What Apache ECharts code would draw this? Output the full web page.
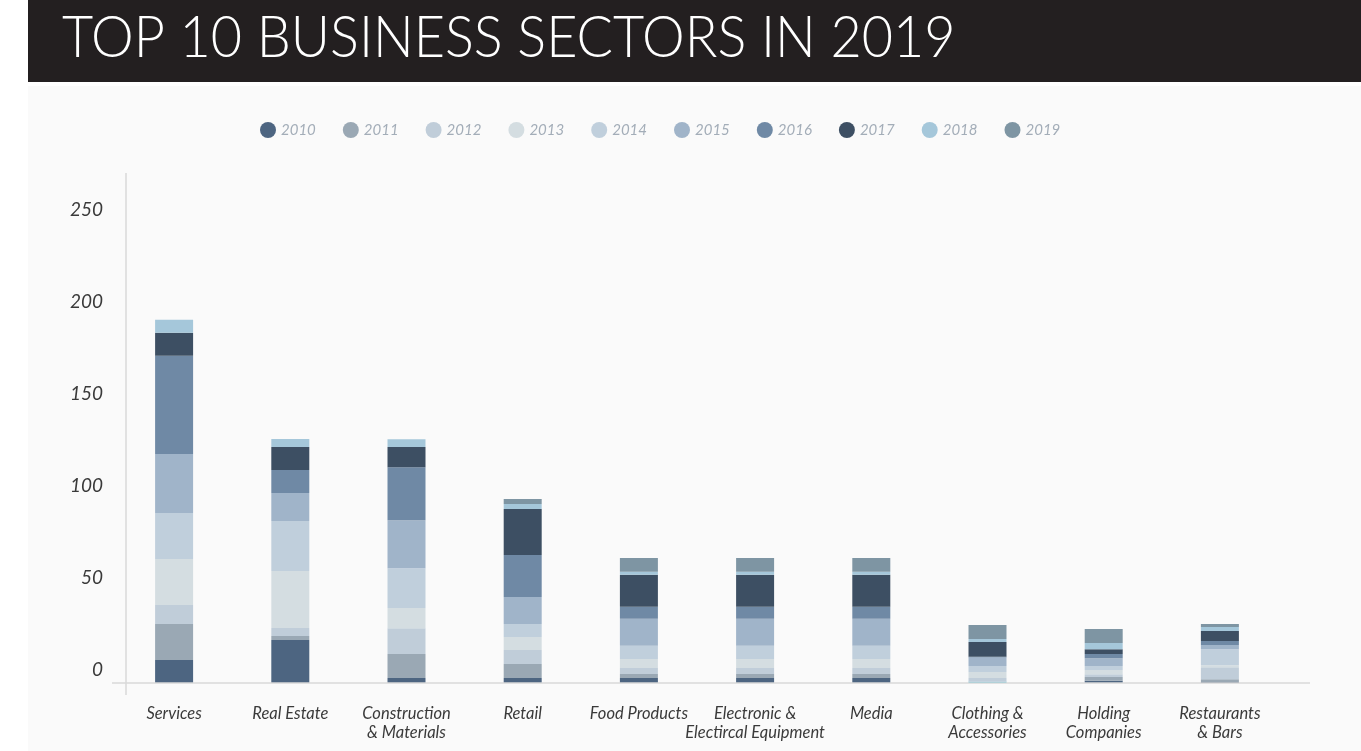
<!DOCTYPE html>
<html>
<head>
<meta charset="utf-8">
<script src="https://cdn.jsdelivr.net/npm/echarts@6/dist/echarts.min.js"></script>
<style>
  html, body { margin: 0; padding: 0; background: #ffffff; }
  #chart { width: 1361px; height: 751px; }
</style>
</head>
<body>
<div id="chart"></div>
<script>
// Sector names shown under the bars
const categories = [
  'Services', 'Real Estate', 'Construction\n& Materials', 'Retail', 'Food Products',
  'Electronic &\nElectircal Equipment', 'Media', 'Clothing &\nAccessories',
  'Holding\nCompanies', 'Restaurants\n& Bars'
];

const years = ['2010', '2011', '2012', '2013', '2014', '2015', '2016', '2017', '2018', '2019'];

// Count per sector for each year (same order as categories)
const y2010 = [12.5, 23.4, 2.7, 2.7, 2.7, 2.7, 2.7, 0.7, 1.2, 0.5];
const y2011 = [19.6, 2.2, 13.0, 7.6, 2.2, 2.2, 2.2, 0, 2.0, 1.6];
const y2012 = [10.3, 4.3, 14.1, 7.6, 3.3, 3.3, 3.3, 2.0, 1.6, 6.5];
const y2013 = [25.0, 31.0, 10.9, 7.1, 4.9, 4.9, 4.9, 3.3, 2.2, 1.1];
const y2014 = [25.0, 27.2, 21.7, 7.1, 7.1, 7.1, 7.1, 3.3, 2.2, 8.7];
const y2015 = [32.1, 15.2, 26.1, 14.7, 14.7, 14.7, 14.7, 4.5, 4.3, 2.2];
const y2016 = [53.3, 12.5, 28.8, 22.8, 6.5, 6.5, 6.5, 0.5, 2.2, 2.2];
const y2017 = [12.5, 12.5, 10.9, 25.0, 17.4, 17.4, 17.4, 8.0, 2.7, 5.4];
const y2018 = [7.1, 4.3, 4.3, 2.7, 1.6, 1.6, 1.6, 1.6, 3.3, 2.2];
const y2019 = [0, 0, 0, 2.7, 7.6, 7.6, 7.6, 7.6, 7.6, 1.6];

const yearValues = [y2010, y2011, y2012, y2013, y2014, y2015, y2016, y2017, y2018, y2019];

// Value axis ticks
const yTicks = [0, 50, 100, 150, 200, 250];

const palette = ['#4d6581', '#9aa8b4', '#c0cdd9', '#d4dde1', '#c0cfdc',
                 '#a0b4c9', '#6f89a5', '#3d4f63', '#a5c7da', '#7e95a3'];

// The 2010 slice of Clothing & Accessories is drawn in a cyan accent
const accentColor = '#3dbdd6';
const accentYear = 0, accentSector = 7;

const FONT = 'Lato, "Open Sans", sans-serif';

const series = years.map((yr, i) => ({
  name: yr,
  type: 'bar',
  stack: 'total',
  barWidth: 38,
  itemStyle: { color: palette[i] },
  emphasis: { disabled: true },
  data: yearValues[i].map((v, j) =>
    (i === accentYear && j === accentSector)
      ? { value: v, itemStyle: { color: accentColor } }
      : v)
}));

const chart = echarts.init(document.getElementById('chart'), null, { renderer: 'canvas' });

chart.setOption({
  backgroundColor: '#ffffff',
  animation: false,
  color: palette,
  graphic: [
    { type: 'rect', z: -10, silent: true,
      shape: { x: 28, y: 86, width: 1333, height: 665 },
      style: { fill: '#fafafa' } },
    { type: 'rect', z: 10, silent: true,
      shape: { x: 28, y: 0, width: 1333, height: 82 },
      style: { fill: '#231f20' } },
    { type: 'text', z: 11, silent: true, x: 62, y: 38, scaleX: 0.93,
      style: { text: 'TOP 10 BUSINESS SECTORS IN 2019', fill: '#ffffff',
               font: '300 58px ' + FONT, verticalAlign: 'middle' } },
    // axis frame lines
    { type: 'line', z: 5, silent: true,
      shape: { x1: 126, y1: 173, x2: 126, y2: 695 },
      style: { stroke: '#d9d9d9', lineWidth: 1.5 } },
    { type: 'line', z: 5, silent: true,
      shape: { x1: 112, y1: 683, x2: 1310, y2: 683 },
      style: { stroke: '#d9d9d9', lineWidth: 1.5 } }
  ],
  legend: {
    data: years,
    top: 117,
    left: 255,
    icon: 'circle',
    itemWidth: 16,
    itemHeight: 16,
    itemGap: 27,
    textStyle: { color: '#a3adb8', fontSize: 15, fontStyle: 'italic', fontFamily: FONT }
  },
  grid: { left: 116, width: 1162, top: 223, bottom: 68, containLabel: false },
  xAxis: {
    type: 'category',
    data: categories,
    axisLine: { show: false },
    axisTick: { show: false },
    axisLabel: {
      interval: 0,
      margin: 21,
      color: '#3a3a3a',
      fontSize: 16.5,
      fontStyle: 'italic',
      fontFamily: FONT,
      lineHeight: 19
    }
  },
  yAxis: {
    type: 'value',
    min: yTicks[0],
    max: yTicks[yTicks.length - 1],
    interval: 50,
    axisLine: { show: false },
    axisTick: { show: false },
    splitLine: { show: false },
    axisLabel: {
      margin: 13,
      color: '#3a3a3a',
      fontSize: 19,
      fontStyle: 'italic',
      fontFamily: FONT,
      verticalAlign: 'bottom',
      lineHeight: 20,
      padding: [0, 0, 3, 0]
    }
  },
  series: series
});
</script>
</body>
</html>
